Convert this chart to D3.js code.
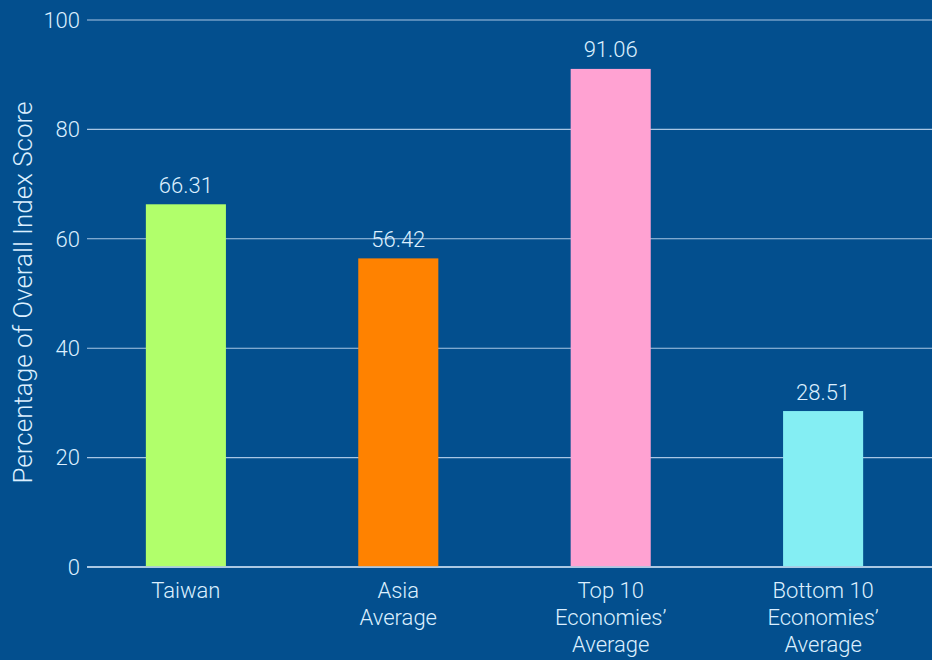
<!DOCTYPE html>
<html>
<head>
<meta charset="utf-8">
<script src="https://cdn.jsdelivr.net/npm/d3@7"></script>
<style>
  html, body { margin: 0; padding: 0; background: #034f8e; }
  svg { display: block; font-family: Roboto, "Noto Sans", sans-serif; font-weight: 300; }
</style>
</head>
<body>
<div id="chart"></div>
<script>
const categories = [
  ["Taiwan"],
  ["Asia", "Average"],
  ["Top 10", "Economies’", "Average"],
  ["Bottom 10", "Economies’", "Average"]
];
const values = [66.31, 56.42, 91.06, 28.51];
const barColors = ["#b1ff6b", "#ff8200", "#ffa2d2", "#84eef3"];
const yTicks = [0, 20, 40, 60, 80, 100];
const yLabel = "Percentage of Overall Index Score";

const width = 932, height = 660;
const textColor = "#dcefff";

const svg = d3.select("#chart").append("svg")
  .attr("width", width).attr("height", height);

svg.append("rect").attr("width", width).attr("height", height).attr("fill", "#034f8e");

const keys = categories.map((c) => c.join(" "));

const x = d3.scaleBand()
  .domain(keys)
  .range([80, 929])
  .paddingInner(0.623)
  .paddingOuter(0.31);

const y = d3.scaleLinear().domain([0, 100]).range([567, 20]);

// gridlines
svg.append("g")
  .selectAll("line")
  .data(yTicks)
  .join("line")
  .attr("x1", 87).attr("x2", width)
  .attr("y1", (d) => y(d)).attr("y2", (d) => y(d))
  .attr("stroke", (d) => d === 0 ? "#e4f1ff" : "#a9c6e4")
  .attr("stroke-width", (d) => d === 0 ? 1.6 : 1.1);

// tick labels
svg.append("g")
  .selectAll("text")
  .data(yTicks)
  .join("text")
  .attr("x", 80)
  .attr("y", (d) => y(d) + 7.8)
  .attr("text-anchor", "end")
  .attr("fill", textColor)
  .style("font-size", "22px")
  .text((d) => d);

// bars
svg.append("g")
  .selectAll("rect")
  .data(values)
  .join("rect")
  .attr("x", (d, i) => x(keys[i]))
  .attr("y", (d) => y(d))
  .attr("width", x.bandwidth())
  .attr("height", (d) => y(0) - y(d) - 0.8)
  .attr("fill", (d, i) => barColors[i]);

// value labels
svg.append("g")
  .selectAll("text")
  .data(values)
  .join("text")
  .attr("x", (d, i) => x(keys[i]) + x.bandwidth() / 2)
  .attr("y", (d) => y(d) - 11.5)
  .attr("text-anchor", "middle")
  .attr("fill", textColor)
  .style("font-size", "22px")
  .text((d) => d.toFixed(2));

// category labels
const cat = svg.append("g")
  .selectAll("text")
  .data(categories)
  .join("text")
  .attr("x", (d, i) => x(keys[i]) + x.bandwidth() / 2)
  .attr("y", 598)
  .attr("text-anchor", "middle")
  .attr("fill", textColor)
  .style("font-size", "22px");

cat.selectAll("tspan")
  .data((d) => d)
  .join("tspan")
  .attr("x", function () { return this.parentNode.getAttribute("x"); })
  .attr("dy", (d, i) => i === 0 ? 0 : 27)
  .text((d) => d);

// y axis title
svg.append("text")
  .attr("transform", "translate(32,292.5) rotate(-90)")
  .attr("text-anchor", "middle")
  .attr("fill", textColor)
  .style("font-size", "26px")
  .text(yLabel);
</script>
</body>
</html>
